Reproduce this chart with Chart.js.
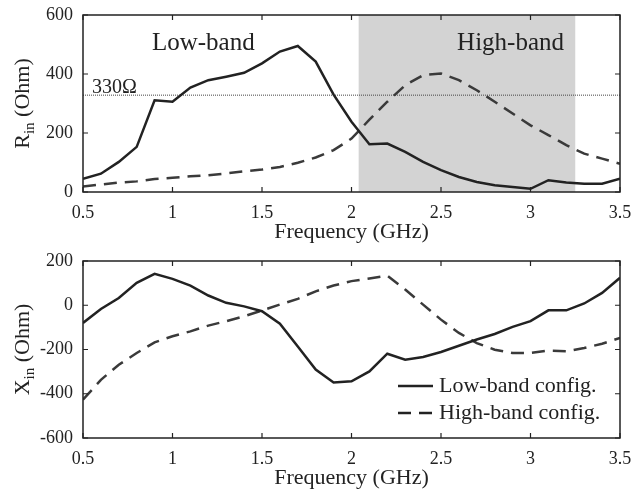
<!DOCTYPE html>
<html>
<head>
<meta charset="utf-8">
<script src="https://cdn.jsdelivr.net/npm/chart.js@4.4.1/dist/chart.umd.min.js"></script>
<style>
  html, body { margin: 0; padding: 0; background: #fff; }
  #wrap { position: relative; width: 634px; height: 491px; }
  #top-chart { position: absolute; left: 0; top: 0; }
  #bottom-chart { position: absolute; left: 0; top: 246px; }
</style>
</head>
<body>
<div id="wrap">
  <canvas id="top-chart" width="634" height="246"></canvas>
  <canvas id="bottom-chart" width="634" height="245"></canvas>
</div>
<script>
// Frequency samples (GHz)
const freqs = [0.5, 0.6, 0.7, 0.8, 0.9, 1.0, 1.1, 1.2, 1.3, 1.4, 1.5, 1.6, 1.7, 1.8, 1.9, 2.0,
               2.1, 2.2, 2.3, 2.4, 2.5, 2.6, 2.7, 2.8, 2.9, 3.0, 3.1, 3.2, 3.3, 3.4, 3.5];

// Input resistance (Ohm)
const rinLow  = [45, 62, 102, 153, 311, 306, 354, 379, 391, 404, 436, 476, 495, 442, 330, 238,
                 162, 164, 136, 102, 74, 51, 34, 23, 17, 11, 40, 32, 28, 28, 45];
const rinHigh = [19, 25, 32, 36, 44, 48, 53, 57, 63, 70, 76, 85, 99, 117, 142, 181,
                 245, 306, 362, 396, 402, 379, 345, 306, 266, 226, 193, 159, 130, 113, 96];

// Input reactance (Ohm)
const xinLow  = [-80, -17, 33, 101, 142, 119, 89, 44, 11, -5, -27, -83, -186, -291, -349, -344,
                 -299, -219, -246, -234, -211, -183, -155, -130, -98, -72, -23, -23, 8, 56, 124];
const xinHigh = [-427, -337, -269, -216, -168, -140, -118, -92, -72, -50, -24, 3, 29, 63, 89, 109,
                 121, 134, 71, 3, -65, -125, -171, -201, -216, -216, -205, -208, -193, -174, -148];

const seriesNames = ['Low-band config.', 'High-band config.'];
const highBand = [2.04, 3.25];   // shaded region (GHz)
const refLine = 330;             // Ohm

const ink = '#222';
const serif = "'Liberation Serif', 'DejaVu Serif', serif";
const dash = [13, 8];

const toPoints = ys => ys.map((y, i) => ({ x: freqs[i], y }));

// frame, inward ticks, y title with subscript, extras
function framePlugin(opts) {
    return {
        id: 'frame',
        beforeDatasetsDraw(chart) {
            const { ctx, chartArea: a, scales } = chart;
            if (opts.band) {
                const x1 = scales.x.getPixelForValue(opts.band[0]);
                const x2 = scales.x.getPixelForValue(opts.band[1]);
                ctx.save();
                ctx.fillStyle = '#d3d3d3';
                ctx.fillRect(x1, a.top, x2 - x1, a.bottom - a.top);
                ctx.restore();
            }
            if (opts.refLine !== undefined) {
                const y = scales.y.getPixelForValue(opts.refLine);
                ctx.save();
                ctx.strokeStyle = '#444';
                ctx.lineWidth = 1;
                ctx.setLineDash([1, 1]);
                ctx.beginPath();
                ctx.moveTo(a.left, y + 0.5);
                ctx.lineTo(a.right, y + 0.5);
                ctx.stroke();
                ctx.restore();
            }
        },
        afterDatasetsDraw(chart) {
            const { ctx, chartArea: a, scales } = chart;
            ctx.save();
            ctx.strokeStyle = ink;
            ctx.lineWidth = 1.5;
            ctx.strokeRect(a.left, a.top, a.right - a.left, a.bottom - a.top);
            ctx.lineWidth = 1.2;
            ctx.beginPath();
            scales.x.ticks.forEach(t => {
                const x = scales.x.getPixelForValue(t.value);
                ctx.moveTo(x, a.bottom); ctx.lineTo(x, a.bottom - 5);
                ctx.moveTo(x, a.top); ctx.lineTo(x, a.top + 5);
            });
            scales.y.ticks.forEach(t => {
                const y = scales.y.getPixelForValue(t.value);
                ctx.moveTo(a.left, y); ctx.lineTo(a.left + 5, y);
                ctx.moveTo(a.right, y); ctx.lineTo(a.right - 5, y);
            });
            ctx.stroke();

            // y title: main letter + subscript + rest
            ctx.fillStyle = ink;
            const cy = (a.top + a.bottom) / 2;
            ctx.translate(29, cy);
            ctx.rotate(-Math.PI / 2);
            ctx.textBaseline = 'alphabetic';
            ctx.font = '22px ' + serif;
            const w1 = ctx.measureText(opts.yMain).width;
            const w3 = ctx.measureText(opts.yRest).width;
            ctx.font = '15px ' + serif;
            const w2 = ctx.measureText(opts.ySub).width;
            let x = -(w1 + w2 + w3) / 2;
            ctx.font = '22px ' + serif;
            ctx.fillText(opts.yMain, x, 0);
            x += w1;
            ctx.font = '15px ' + serif;
            ctx.fillText(opts.ySub, x, 5);
            x += w2;
            ctx.font = '22px ' + serif;
            ctx.fillText(opts.yRest, x, 0);
            ctx.restore();

            if (opts.labels) {
                ctx.save();
                ctx.fillStyle = ink;
                ctx.textBaseline = 'middle';
                opts.labels.forEach(l => {
                    ctx.font = l.size + 'px ' + serif;
                    ctx.fillText(l.text, scales.x.getPixelForValue(l.x), scales.y.getPixelForValue(l.y));
                });
                ctx.restore();
            }

            if (opts.legend) {
                ctx.save();
                ctx.strokeStyle = ink;
                ctx.fillStyle = ink;
                ctx.lineWidth = 2.5;
                ctx.font = '22px ' + serif;
                ctx.textBaseline = 'middle';
                const lx = 398, ly = 140;
                seriesNames.forEach((name, i) => {
                    const y = ly + i * 27;
                    ctx.setLineDash(i === 0 ? [] : dash);
                    ctx.beginPath();
                    ctx.moveTo(lx, y); ctx.lineTo(lx + 35, y);
                    ctx.stroke();
                    ctx.fillText(name, lx + 41, y);
                });
                ctx.restore();
            }
        }
    };
}

function makeChart(id, low, high, yMin, yMax, padTop, axisH, titlePad, opts) {
    return new Chart(document.getElementById(id).getContext('2d'), {
        type: 'line',
        data: {
            datasets: [{
                label: seriesNames[0],
                data: toPoints(low),
                borderColor: ink,
                borderWidth: 2.5,
                pointRadius: 0,
                tension: 0
            }, {
                label: seriesNames[1],
                data: toPoints(high),
                borderColor: '#3a3a3a',
                borderWidth: 2.5,
                borderDash: dash,
                pointRadius: 0,
                tension: 0
            }]
        },
        options: {
            responsive: false,
            animation: false,
            devicePixelRatio: 1,
            layout: { padding: { top: padTop, right: 14, left: 0, bottom: 0 } },
            plugins: { legend: { display: false }, tooltip: { enabled: false } },
            scales: {
                x: {
                    type: 'linear', min: 0.5, max: 3.5,
                    afterFit: s => { s.height = axisH; s.paddingLeft = 0; s.paddingRight = 0; },
                    grid: { display: false, drawTicks: false },
                    border: { display: false },
                    ticks: { stepSize: 0.5, padding: 10, color: ink, font: { family: serif, size: 18 },
                             callback: v => String(v) },
                    title: { display: true, text: 'Frequency (GHz)', color: ink,
                             font: { family: serif, size: 22 }, padding: { top: 0, bottom: titlePad } }
                },
                y: {
                    min: yMin, max: yMax,
                    afterFit: s => { s.width = 83; s.paddingTop = 0; s.paddingBottom = 0; },
                    grid: { display: false, drawTicks: false },
                    border: { display: false },
                    ticks: { stepSize: 200, padding: 10, color: ink, font: { family: serif, size: 18 } }
                }
            }
        },
        plugins: [framePlugin(opts)]
    });
}

makeChart('top-chart', rinLow, rinHigh, 0, 600, 15, 54, 1, {
    band: highBand,
    refLine: refLine,
    yMain: 'R', ySub: 'in', yRest: ' (Ohm)',
    labels: [
        { text: 'Low-band', x: 0.885, y: 505, size: 25 },
        { text: 'High-band', x: 2.59, y: 505, size: 25 },
        { text: '330\u03A9', x: 0.55, y: 352, size: 20 }
    ]
});

makeChart('bottom-chart', xinLow, xinHigh, -600, 200, 15, 53, 0, {
    yMain: 'X', ySub: 'in', yRest: ' (Ohm)',
    legend: true
});
</script>
</body>
</html>
